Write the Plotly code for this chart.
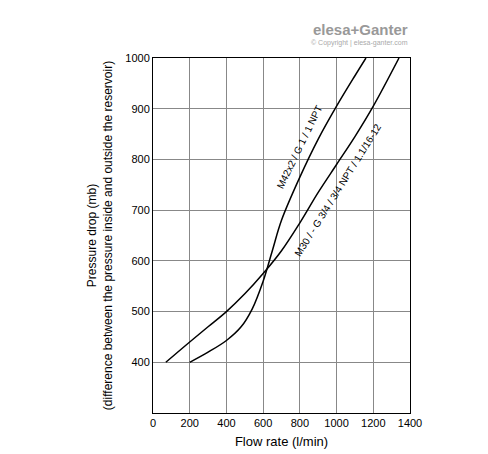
import plotly.graph_objects as go

xa = [200, 300, 400, 480, 540, 600, 650, 700, 800, 900, 1000, 1100, 1160]
ya = [400, 420, 443, 470, 505, 560, 620, 680, 765, 840, 905, 965, 1000]
xb = [70, 200, 300, 400, 500, 600, 700, 800, 900, 1000, 1100, 1200, 1340]
yb = [400, 440, 470, 500, 535, 575, 620, 675, 735, 790, 845, 905, 1000]
xt = [0, 200, 400, 600, 800, 1000, 1200, 1400]
yt = [400, 500, 600, 700, 800, 900, 1000]

fig = go.Figure()
for x, y in [(xa, ya), (xb, yb)]:
    fig.add_trace(go.Scatter(x=x, y=y, mode="lines", line=dict(color="black", width=1.5, shape="spline"), hoverinfo="skip"))
fig.update_layout(
    width=488, height=454, showlegend=False, plot_bgcolor="white", paper_bgcolor="white",
    margin=dict(l=145, r=86, t=50, b=49, autoexpand=False),
    font=dict(family="Liberation Sans, Arial", size=11, color="black"),
    xaxis=dict(range=[0, 1400], tickvals=xt, showgrid=True, gridcolor="#888", gridwidth=1, automargin=False,
               showline=True, linecolor="black", mirror=True, ticks="", zeroline=False,
               title=dict(text="Flow rate (l/min)", font=dict(size=13), standoff=8)),
    yaxis=dict(range=[300, 1000], tickvals=yt, showgrid=True, gridcolor="#888", gridwidth=1, automargin=False,
               showline=True, linecolor="black", mirror=True, ticks="", zeroline=False,
               title=dict(text="Pressure drop (mb)<br>(difference between the pressure inside and outside the reservoir)", font=dict(size=12), standoff=10)),
    annotations=[
        dict(x=800, y=825, text="M42x2 / G 1 / 1 NPT", showarrow=False, textangle=-64, font=dict(size=10)),
        dict(x=1010, y=740, text="M30 / - G 3/4 / 3/4 NPT / 1.1/16-12", showarrow=False, textangle=-58, font=dict(size=10)),
        dict(x=1, y=1.11, xref="paper", yref="paper", text="<b>elesa+Ganter</b>", showarrow=False, xanchor="right", font=dict(size=15, color="#999")),
        dict(x=1, y=1.06, xref="paper", yref="paper", text="© Copyright | elesa-ganter.com", showarrow=False, xanchor="right", font=dict(size=7, color="#aaa")),
    ],
)
fig.write_html("out.html")
